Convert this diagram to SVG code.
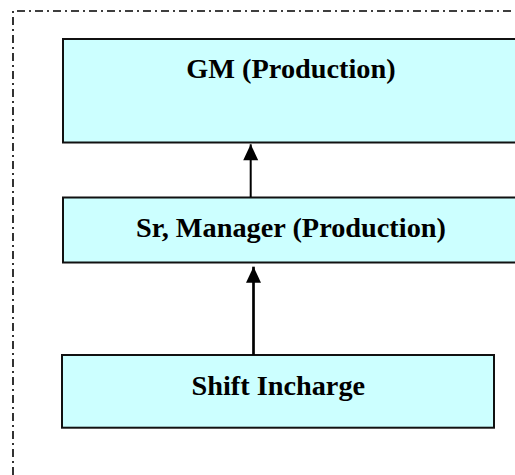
<svg xmlns="http://www.w3.org/2000/svg" width="515" height="475" viewBox="0 0 515 475">
  <defs>
    <marker id="ah" markerUnits="userSpaceOnUse" markerWidth="16" markerHeight="16" refX="0" refY="0" viewBox="-16 -8 16 16" orient="auto" overflow="visible">
      <path d="M0,0 L-16,-7.5 L-16,7.5 Z" fill="#000"/>
    </marker>
    <style>
      .box { fill: #CCFFFF; stroke: #111; stroke-width: 2; }
      .lbl { font-family: "Liberation Serif", "Times New Roman", serif; font-weight: bold; font-size: 28.3px; fill: #000; text-anchor: middle; }
      .conn { stroke: #000; fill: none; }
      .frame { stroke: #000; stroke-width: 1.6; fill: none; stroke-dasharray: 8 4 2 4; }
    </style>
  </defs>
  <rect width="515" height="475" fill="#fff"/>
  <path class="frame" d="M13,475 L13,11 L515,11"/>
  <g id="gm">
    <rect class="box" x="63" y="39" width="456" height="103.5"/>
    <text class="lbl" x="291" y="78.3">GM (Production)</text>
  </g>
  <g id="srmanager">
    <rect class="box" x="63" y="197.5" width="456" height="65"/>
    <text class="lbl" x="291" y="236.7">Sr, Manager (Production)</text>
  </g>
  <g id="shift">
    <rect class="box" x="62" y="355" width="432" height="72.7"/>
    <text class="lbl" x="278.3" y="395">Shift Incharge</text>
  </g>
  <g id="connectors">
    <line class="conn" stroke-width="2" x1="250.7" y1="197" x2="250.7" y2="144.3" marker-end="url(#ah)"/>
    <line class="conn" stroke-width="2.7" x1="253.5" y1="355" x2="253.5" y2="266.7" marker-end="url(#ah)"/>
  </g>
</svg>
